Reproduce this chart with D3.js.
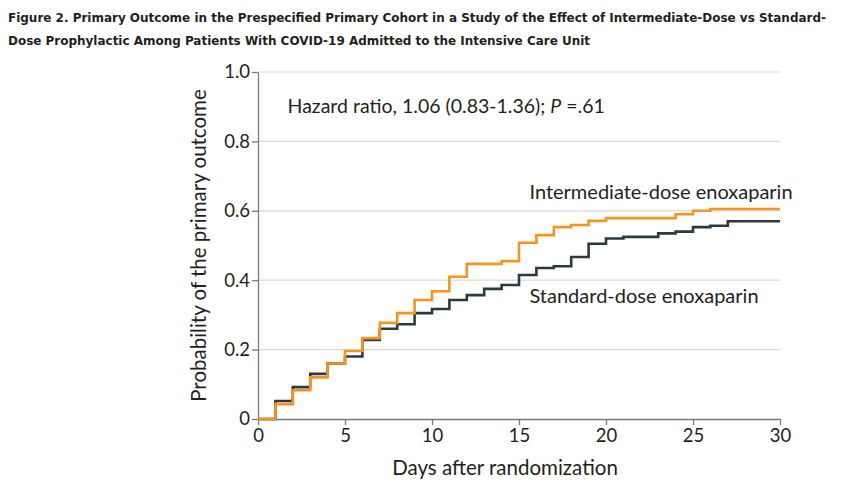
<!DOCTYPE html>
<html>
<head>
<meta charset="utf-8">
<script src="https://cdn.jsdelivr.net/npm/d3@7"></script>
<style>
  body { margin: 0; background: #fff; }
  .axis path, .axis line { stroke: #7a7a7a; }
  .axis text { font-family: Lato, "Open Sans", sans-serif; font-size: 18.5px; fill: #231f20; }
</style>
</head>
<body>
<div id="chart"></div>
<script>
var days = [0,1,2,3,4,5,6,7,8,9,10,11,12,13,14,15,16,17,18,19,20,21,22,23,24,25,26,27,28,29,30];

var standardDose = [0, 0.052, 0.092, 0.13, 0.16, 0.18, 0.228, 0.26, 0.273, 0.305, 0.317,
  0.343, 0.357, 0.375, 0.386, 0.415, 0.435, 0.44, 0.467, 0.505, 0.52,
  0.525, 0.525, 0.535, 0.54, 0.553, 0.557, 0.57, 0.57, 0.57, 0.57];

var intermediateDose = [0, 0.043, 0.083, 0.12, 0.16, 0.196, 0.233, 0.277, 0.305, 0.343, 0.368,
  0.41, 0.447, 0.447, 0.455, 0.508, 0.53, 0.553, 0.559, 0.571, 0.579,
  0.579, 0.579, 0.579, 0.59, 0.6, 0.605, 0.605, 0.605, 0.605, 0.605];

var xTicks = [0, 5, 10, 15, 20, 25, 30];
var yTicks = [0, 0.2, 0.4, 0.6, 0.8, 1.0];
var yTickLabels = ["0", "0.2", "0.4", "0.6", "0.8", "1.0"];

var margin = {top: 72, right: 63, bottom: 65, left: 258},
    fullWidth = 843,
    fullHeight = 484,
    width  = fullWidth - margin.left - margin.right,
    height = fullHeight - margin.top - margin.bottom;

var svg0 = d3.select("#chart").append("svg")
  .attr("width", fullWidth)
  .attr("height", fullHeight);

// title
var title = svg0.append("g")
  .style("font-family", "'DejaVu Sans Condensed', 'Liberation Sans Narrow', sans-serif")
  .style("font-weight", "bold")
  .style("font-size", "13px")
  .style("fill", "#231f20");
title.append("text").attr("x", 8).attr("y", 22)
  .attr("textLength", 818).attr("lengthAdjust", "spacingAndGlyphs")
  .text("Figure 2.  Primary Outcome in the Prespecified Primary Cohort in a Study of the Effect of Intermediate-Dose vs Standard-");
title.append("text").attr("x", 8).attr("y", 45)
  .attr("textLength", 582).attr("lengthAdjust", "spacingAndGlyphs")
  .text("Dose Prophylactic Among Patients With COVID-19 Admitted to the Intensive Care Unit");

var svg = svg0.append("g")
  .attr("transform", "translate(" + margin.left + "," + margin.top + ")");

var xScale = d3.scaleLinear().domain([0, 30]).range([0, width]);
var yScale = d3.scaleLinear().domain([0, 1]).range([height, 0]);

// gridlines
svg.append("g")
  .selectAll("line")
  .data(yTicks.slice(1))
  .join("line")
  .attr("x1", 0)
  .attr("x2", width)
  .attr("y1", function(d) { return yScale(d); })
  .attr("y2", function(d) { return yScale(d); })
  .attr("stroke", "#d9d9d9")
  .attr("stroke-width", 1.2);

svg.append("g")
  .attr("class", "axis")
  .attr("transform", "translate(0," + height + ")")
  .call(d3.axisBottom(xScale).tickValues(xTicks).tickSize(6).tickPadding(4).tickSizeOuter(0))
  .call(function(g) { g.selectAll("path, line").attr("stroke-width", 1.3); });

svg.append("g")
  .attr("class", "axis")
  .call(d3.axisLeft(yScale).tickValues(yTicks).tickSize(6).tickPadding(2).tickSizeOuter(0)
          .tickFormat(function(d, i) { return yTickLabels[i]; }))
  .call(function(g) { g.selectAll("path, line").attr("stroke-width", 1.3); });

var line = d3.line()
  .x(function(d) { return xScale(d[0]); })
  .y(function(d) { return yScale(d[1]); })
  .curve(d3.curveStepAfter);

svg.append("path")
  .datum(d3.zip(days, standardDose))
  .attr("fill", "none")
  .attr("stroke", "#2b3a42")
  .attr("stroke-width", 2.6)
  .attr("d", line);

svg.append("path")
  .datum(d3.zip(days, intermediateDose))
  .attr("fill", "none")
  .attr("stroke", "#f7941d")
  .attr("stroke-width", 2.6)
  .attr("d", line);

var label = svg.append("g")
  .style("font-family", "Lato, 'Open Sans', sans-serif")
  .style("fill", "#231f20");

var hr = label.append("text")
  .attr("x", xScale(1.7))
  .attr("y", yScale(0.9) + 6)
  .style("font-size", "19.5px");
hr.append("tspan").text("Hazard ratio, 1.06 (0.83-1.36); ");
hr.append("tspan").style("font-style", "italic").text("P");
hr.append("tspan").text(" =.61");

label.append("text")
  .attr("x", xScale(15.6))
  .attr("y", yScale(0.635))
  .style("font-size", "20px")
  .text("Intermediate-dose enoxaparin");

label.append("text")
  .attr("x", xScale(15.6))
  .attr("y", yScale(0.335))
  .style("font-size", "20px")
  .text("Standard-dose enoxaparin");

svg.append("text")
  .attr("x", 247)
  .attr("y", height + 56)
  .attr("text-anchor", "middle")
  .style("font-family", "Lato, 'Open Sans', sans-serif")
  .style("font-size", "20.5px")
  .style("fill", "#231f20")
  .text("Days after randomization");

svg.append("text")
  .attr("transform", "translate(-52," + (height / 2) + ") rotate(-90)")
  .attr("text-anchor", "middle")
  .style("font-family", "Lato, 'Open Sans', sans-serif")
  .style("font-size", "20.5px")
  .style("fill", "#231f20")
  .text("Probability of the primary outcome");
</script>
</body>
</html>
